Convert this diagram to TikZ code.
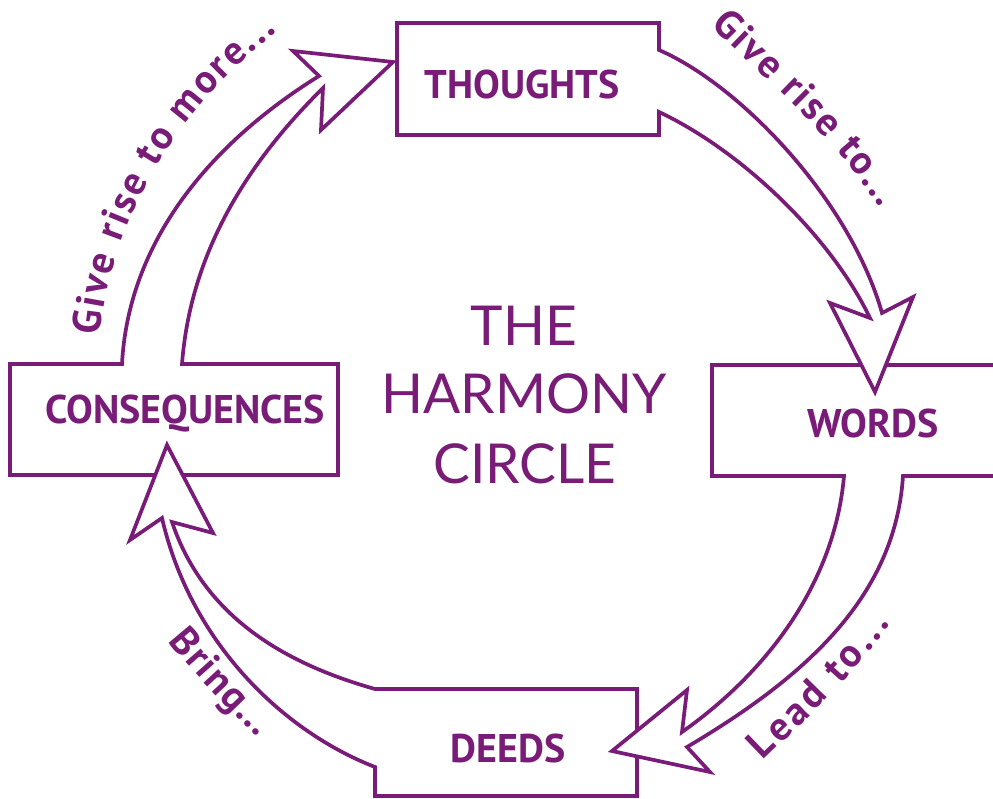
\documentclass[tikz,border=0pt]{standalone}
\usepackage{fontspec}
\usetikzlibrary{decorations.text}
\newfontfamily\boxfont{PT Sans}
\newfontfamily\labfont{PT Sans}
\newfontfamily\titlefont{Lato}
\definecolor{hc}{RGB}{120,28,120}
\begin{document}
\begin{tikzpicture}[x=1pt,y=-1pt,
  outline/.style={draw=hc, fill=white, line width=3.7pt, line join=miter},
  boxlabel/.style={font=\boxfont\bfseries\fontsize{40}{40}\selectfont, text=hc, anchor=base, inner sep=0pt},
  titleline/.style={font=\titlefont\fontsize{55}{55}\selectfont, text=hc, anchor=base, inner sep=0pt},
  along/.style={decorate, decoration={text along path, text align={fit to path}, text color=hc,
     text={|\labfont\bfseries\fontsize{40}{40}\selectfont|#1}}}
]
\clip (0,0) rectangle (993,798);
\fill[white] (0,0) rectangle (993,798);

% consequences box + shaft to thoughts
\path[outline] (319,76) .. controls (200,150) and (128,250) .. (122,364)
  -- (10,364) -- (10,475) -- (338,475) -- (338,364) -- (182,364)
  .. controls (190,260) and (240,170) .. (323,88)
  -- (321,130) -- (393,62) -- (293,51) -- cycle;
% deeds box + shaft to consequences
\path[outline] (162,518) .. controls (190,640) and (280,730) .. (375,767)
  -- (375,796) -- (637,796) -- (637,689) -- (375,689)
  .. controls (290,665) and (205,620) .. (172,522)
  -- (213,533) -- (167,445) -- (130,540) -- cycle;
% words box + shaft to deeds
\path[outline] (687,747) .. controls (800,680) and (895,600) .. (903,476)
  -- (1010,476) -- (1010,365) -- (712,365) -- (712,476) -- (844,476)
  .. controls (835,580) and (770,670) .. (682,732)
  -- (687,690) -- (612,751) -- (710,772) -- cycle;
% thoughts box + shaft to words
\path[outline] (882,313) .. controls (850,200) and (740,85) .. (659,50)
  -- (659,23) -- (397,23) -- (397,135) -- (659,135) -- (659,112)
  .. controls (740,150) and (830,235) .. (870,318)
  -- (830,303) -- (875,392) -- (913,297) -- cycle;

\node[boxlabel] (thoughts) at (522,98) {THOUGHTS};
\node[boxlabel] (words) at (873,437) {WORDS};
\node[boxlabel] (deeds) at (508,762) {DEEDS};
\node[boxlabel] (consequences) at (185,423) {CONSEQUENCES};

\node[titleline] (the) at (524,345) {THE};
\node[titleline] (harmony) at (524,413) {HARMONY};
\node[titleline] (circle) at (525,483) {CIRCLE};

\path[along={Give rise to...}] (711,25) .. controls (761,77) and (830,130) .. (880,208);
\path[along={Give rise to more...}] (100,336) .. controls (110,230) and (166,118) .. (277,32);
\path[along={Lead to...}] (763,761) .. controls (800,725) and (850,680) .. (890,624);
\path[along={Bring...}] (168,641) .. controls (196,675) and (226,708) .. (258,737);
\end{tikzpicture}
\end{document}
